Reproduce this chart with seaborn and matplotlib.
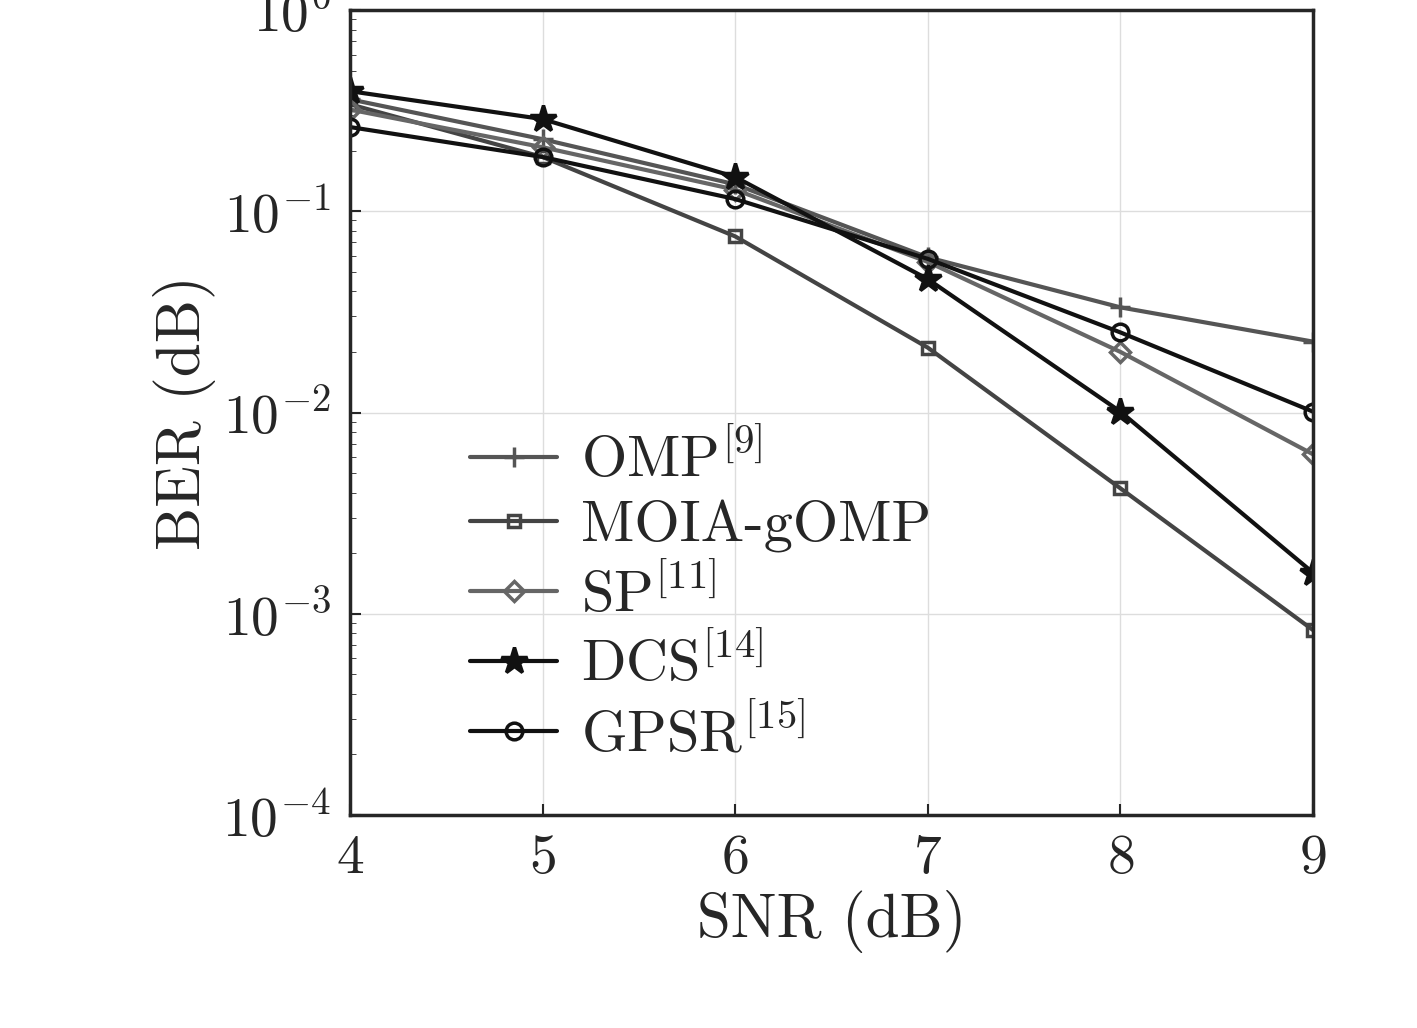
import numpy as np
import pandas as pd
import matplotlib
matplotlib.use("Agg")
import matplotlib.pyplot as plt
import seaborn as sns
from matplotlib.lines import Line2D

snr = [4, 5, 6, 7, 8, 9]
omp = [0.36, 0.228, 0.136, 0.059, 0.0333, 0.0225]
moia = [0.34, 0.186, 0.075, 0.021, 0.0042, 0.00083]
sp = [0.32, 0.208, 0.128, 0.056, 0.020, 0.0062]
dcs = [0.395, 0.287, 0.148, 0.046, 0.0101, 0.0016]
gpsr = [0.262, 0.186, 0.115, 0.058, 0.025, 0.0101]

labels = ["OMP$^{[9]}$", "MOIA-gOMP", "SP$^{[11]}$", "DCS$^{[14]}$", "GPSR$^{[15]}$"]
series = [omp, moia, sp, dcs, gpsr]
colors = ["#555555", "#444444", "#666666", "#111111", "#111111"]
markers = ["+", "s", "D", "*", "o"]
msizes = [14, 9, 10, 20, 12]

sns.set_style("ticks")
plt.rcParams["font.family"] = "serif"
plt.rcParams["font.serif"] = ["cmr10", "DejaVu Serif"]
plt.rcParams["mathtext.fontset"] = "cm"
plt.rcParams["axes.formatter.use_mathtext"] = True

fig = plt.figure(figsize=(14.17, 10.28), dpi=100)
ax = fig.add_axes([350 / 1417, 1 - 815 / 1028, 963 / 1417, 805 / 1028])
for vals, c, m, ms in zip(series, colors, markers, msizes):
    face = "none" if m in ("s", "D", "o") else c
    sns.lineplot(x=snr, y=vals, color=c, marker=m, markersize=ms, linewidth=3,
                 markerfacecolor=face, markeredgecolor=c, markeredgewidth=2.5, ax=ax)

ax.set_yscale("log")
ax.set_ylim(1e-4, 1)
ax.set_xlim(4, 9)
ax.set_xticks(snr)
ax.grid(True, which="major", color="#dddddd", linewidth=1)
ax.tick_params(direction="in", labelsize=40, length=8, width=1.5, pad=14)
ax.tick_params(which="minor", direction="in", length=4)
for s in ax.spines.values():
    s.set_linewidth(2.5)
ax.set_xlabel("SNR (dB)", fontsize=44)
ax.set_ylabel("BER (dB)", fontsize=44)

handles = [Line2D([], [], color=c, marker=m, markersize=ms, linewidth=3,
                  markerfacecolor=("none" if m in ("s", "D", "o") else c), markeredgewidth=2.5)
           for c, m, ms in zip(colors, markers, msizes)]
ax.legend(handles, labels, loc="lower left", bbox_to_anchor=(0.07, 0.0), frameon=False,
          fontsize=42, handlelength=1.5, handletextpad=0.4, labelspacing=0.2)

fig.savefig("out.png", dpi=100)
